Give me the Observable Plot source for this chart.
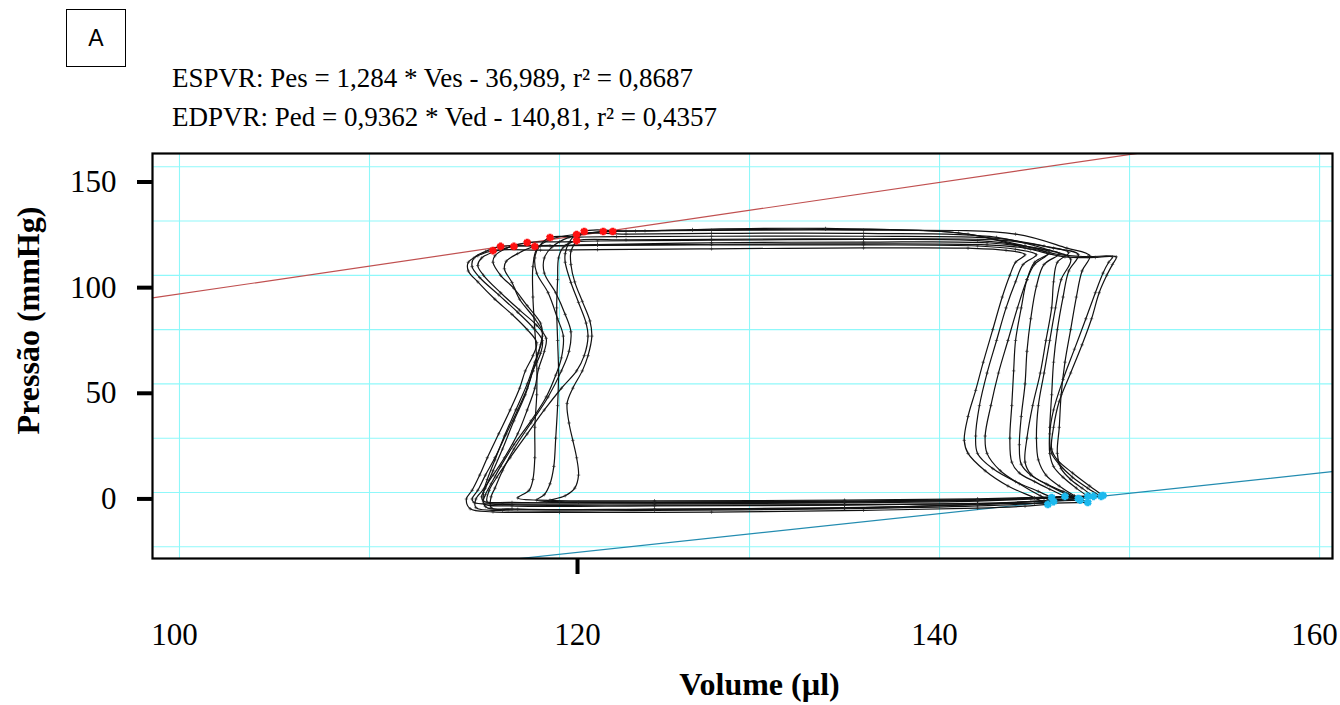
<!DOCTYPE html>
<html lang="pt">
<head>
<meta charset="utf-8">
<script src="https://cdn.jsdelivr.net/npm/d3@7"></script>
<script src="https://cdn.jsdelivr.net/npm/@observablehq/plot@0.6"></script>
<style>
  html, body { margin: 0; padding: 0; background: #fff; overflow: hidden; }
  #fig { position: relative; width: 1340px; height: 705px; }
  #panel {
    position: absolute; left: 66px; top: 9px; width: 60px; height: 58px;
    box-sizing: border-box; border: 1.5px solid #000;
    font: 23px "Liberation Sans", Arial, sans-serif;
    display: flex; align-items: center; justify-content: center;
  }
  .eq {
    position: absolute; left: 172px; white-space: nowrap; color: #000;
    font: 27px/27px "Liberation Serif", "Times New Roman", serif;
  }
  #eq1 { top: 65px; }
  #eq2 { top: 104px; }
  #chart { position: absolute; left: 0; top: 140px; width: 1340px; height: 565px; }
  #chart svg { position: absolute; left: 0; top: 0; }
</style>
</head>
<body>
<div id="fig">
  <div id="panel">A</div>
  <div class="eq" id="eq1"></div>
  <div class="eq" id="eq2"></div>
  <div id="chart"></div>
</div>
<script>
// Regression coefficients (end-systolic and end-diastolic pressure-volume relations)
const espvr = [1.284, -36.989, 0.8687];   // slope, intercept, r²
const edpvr = [0.9362, -140.81, 0.4357];

// Axis ticks and grid
const volumeTicks = [100, 140, 160];
const volumeTickMarks = [120];
const pressureTicks = [0, 50, 100, 150];
const volumeGrid = [100, 110, 120, 130, 140, 150, 160];
const pressureGrid = [-25, 0, 25, 50, 75, 100, 125, 150];

// End-diastolic and end-systolic points of each beat [volume µl, pressure mmHg]
const edPoints = [[145.7,-5.5],[145.9,-2.3],[146.0,-4.2],[146.6,-1.8],[147.3,-2.8],[147.4,-3.5],
                  [147.8,-1.8],[147.8,-4.6],[148.1,-1.8],[148.5,-1.8],[148.6,-1.4]];
const esPoints = [[116.5,111.4],[116.9,113.3],[117.6,113.3],[118.3,115.1],[118.7,113.3],[119.5,117.4],
                  [120.9,116.0],[120.9,118.8],[121.3,120.2],[122.3,120.2],[122.8,120.2]];

// Contraction + ejection limb of each beat (after end-diastole, before end-systole)
const systolicPaths = [
  [[145.0,-2.5],[143.6,3],[142.4,10],[141.5,18],[141.3,24],[141.5,35],[141.9,47],[142.3,60],[142.8,75],[143.3,90],[143.7,100],[144.0,106],[144.5,109.5],[143.5,111.5],[141.5,112.5],[136,112.6],[128,112.2],[122,111.8],[119,111.6]],
  [[145.2,0.5],[144.0,5],[142.8,11],[142.0,18],[141.9,26],[142.1,40],[142.5,55],[143.0,70],[143.5,85],[144.0,97],[144.4,105],[145.1,109.5],[144.0,112],[142.0,113.5],[136,114],[128,114],[122,113.8],[119,113.5]],
  [[145.3,-1.5],[144.2,4],[143.2,10],[142.5,18],[142.4,26],[142.7,40],[143.1,55],[143.6,70],[144.1,85],[144.6,98],[145.0,105],[145.7,110],[144.5,112.5],[142.5,114],[136,114.5],[128,114.3],[122,114],[119.5,113.6]],
  [[145.8,1.5],[145.0,5],[144.2,9],[143.8,14],[143.7,25],[143.8,40],[143.9,56],[144.0,70],[144.3,85],[144.6,98],[145.0,106],[145.8,110.5],[144.5,113.5],[142,116],[136,116.5],[128,116.2],[122,115.8],[120,115.4]],
  [[146.5,0.5],[145.6,4],[144.8,8],[144.3,13],[144.2,22],[144.3,35],[144.5,50],[144.6,65],[144.8,80],[145.1,95],[145.5,105],[146.3,110],[145.0,112.5],[142.5,115],[136,115.3],[128,115],[122,114.2],[120.3,113.7]],
  [[146.6,-0.5],[145.7,3.5],[144.8,8.5],[144.5,14],[144.6,25],[144.9,40],[145.3,55],[145.6,70],[145.9,85],[146.0,97],[146.2,106],[146.8,110.5],[145.5,113.5],[143,117],[136,118],[128,118],[123,117.8],[121,117.6]],
  [[147.2,2],[146.5,7],[146.0,12],[145.8,18],[145.8,30],[145.9,45],[146.0,60],[146.2,75],[146.5,90],[146.8,102],[147.3,109.5],[146.0,112.5],[143.5,116],[136,116.8],[128,116.6],[123.5,116.3]],
  [[147.1,-1.5],[146.3,3],[145.6,8],[145.2,15],[145.1,25],[145.2,40],[145.5,55],[145.8,70],[146.1,85],[146.4,98],[146.9,107.5],[145.8,111.5],[143,117.5],[136,119.3],[128,119.3],[123.5,119]],
  [[147.5,2],[146.9,6],[146.4,11],[146.2,18],[146.3,30],[146.4,45],[146.6,60],[146.9,75],[147.2,90],[147.5,102],[147.9,109],[146.7,112.5],[144,119],[136,120.8],[128,120.7],[123.5,120.4]],
  [[147.8,2],[147.0,7],[146.3,13],[145.9,18],[145.8,27],[146.0,38],[146.5,52],[147.1,66],[147.7,80],[148.2,92],[148.6,101],[148.9,106],[149.1,108.5],[147.8,108.6],[146.3,109.5],[144.5,113.5],[141,119.5],[134,121.2],[127,120.8],[124,120.4]],
  [[147.9,3],[147.0,9],[146.2,15],[145.9,20],[146.0,30],[146.3,42],[146.9,55],[147.5,68],[148.0,80],[148.4,92],[148.8,100],[149.1,105],[149.3,108.5],[148.2,108.2],[146.6,108.5],[144.8,112],[141.5,119],[134,121.6],[127,121.1],[124.5,120.5]]
];

// Relaxation + filling limb of each beat (after end-systole, before end-diastole)
const diastolicPaths = [
  [[115.7,109],[115.2,106],[115.2,102],[115.7,97],[116.6,89],[117.5,82],[118.3,75],[118.8,69],[118.6,63],[118.2,56],[117.9,48],[117.4,38],[116.8,27],[116.2,16],[115.8,8],[115.4,1],[115.1,-3],[115.3,-7.5],[116.5,-8.9],[120,-9.2],[128,-9],[136,-8.2],[142,-7.2],[144.5,-6.3]],
  [[116.1,111],[115.5,108],[115.4,104],[115.8,99],[116.8,91],[117.8,83],[118.6,76],[119.1,70],[119.0,64],[118.6,56],[118.3,48],[117.8,38],[117.2,27],[116.6,16],[116.1,8],[115.7,1],[115.4,-3],[115.5,-4.6],[117,-5.2],[125,-5.2],[135,-4.8],[142,-4],[144.8,-3]],
  [[116.6,111],[115.9,108],[115.7,104.5],[116.0,100],[116.9,92],[117.9,84],[118.8,77],[119.3,71],[119.2,65],[118.9,57],[118.7,48],[118.3,38],[117.8,27],[117.1,16],[116.5,8],[116.0,1.5],[115.6,-3],[115.6,-7],[117,-8.3],[125,-8.2],[135,-7.5],[142,-6.2],[145,-5]],
  [[117.2,112.5],[116.6,109],[116.5,106],[116.9,100],[117.6,94],[118.3,86],[119.0,78],[119.1,72],[118.9,64.5],[118.6,56],[118.2,45],[117.6,33],[117.0,20],[116.5,10],[116.1,2],[115.9,-2],[116.0,-4],[117.5,-4.6],[125,-4.7],[135,-4.3],[142,-3.5],[145,-2.5]],
  [[117.8,110],[117.2,106.5],[117.1,103],[117.5,96.7],[117.9,89],[118.7,80],[119.1,74],[119.0,68],[118.7,60],[118.3,50],[117.7,38],[117.1,26],[116.6,15],[116.2,6],[116.0,0],[116.1,-6.5],[117.5,-7.6],[125,-7.6],[135,-7],[142,-5.5],[145.5,-3.8]],
  [[118.9,113],[118.7,108],[118.8,101],[119.4,92],[119.9,80],[120.2,72],[120.1,62],[119.8,54],[119.3,44],[118.5,33],[117.6,22],[116.9,12],[116.4,4],[116.1,-1],[116.0,-5],[117.5,-6.2],[125,-6.2],[135,-5.8],[142,-5],[145.5,-4]],
  [[120.2,113],[119.95,108],[119.9,98],[119.85,85],[119.9,70],[119.95,55],[119.9,40],[119.8,25],[119.7,12],[119.5,4],[119.2,-1],[118.8,-3.5],[120,-4.2],[125,-4.3],[135,-4],[142,-3.3],[146,-2.4]],
  [[120.5,115],[120.3,110],[120.3,106],[120.6,96.7],[121.0,87.5],[121.4,78],[121.5,72],[121.3,63],[120.9,56],[120.1,48],[119.2,38],[118.3,27],[117.4,16],[116.7,7],[116.3,1],[116.2,-4.5],[117.5,-5.6],[125,-5.8],[135,-5.6],[142,-5.2],[146,-4.9]],
  [[120.9,116],[120.6,111],[120.6,105],[120.8,97],[121.2,88],[121.6,79],[121.7,72],[121.5,63],[121.2,56],[120.7,48],[120.4,41],[120.5,32],[120.7,24],[120.9,16],[121.0,8],[120.8,2],[120.3,-1.5],[119.3,-4.2],[121,-4.6],[125,-4.8],[135,-4.4],[142,-3.5],[146.5,-2.5]],
  [[120.5,117.5],[119.6,113],[119.2,108],[119.2,101],[119.8,92],[120.3,82],[120.6,74],[120.5,65],[120.1,56],[119.4,44],[118.5,32],[117.6,20],[117.0,10],[116.6,2],[116.4,-2],[116.4,-7],[117.8,-7.7],[125,-7.8],[135,-7.2],[142,-5.5],[146.5,-3.2]],
  [[121,119],[119.5,116.5],[118.8,112],[118.6,104],[118.6,90],[118.7,75],[118.8,60],[118.8,45],[118.7,30],[118.7,16],[118.6,6],[118.4,1],[117.8,-2.5],[119.5,-3.6],[125,-3.8],[135,-3.5],[142,-2.9],[146.5,-2]]
];

// Equation header (Portuguese decimal comma)
const br = (x) => String(x).replace(".", ",");
document.getElementById("eq1").textContent =
  `ESPVR: Pes = ${br(espvr[0])} * Ves - ${br(-espvr[1])}, r² = ${br(espvr[2])}`;
document.getElementById("eq2").textContent =
  `EDPVR: Ped = ${br(edpvr[0])} * Ved - ${br(-edpvr[1])}, r² = ${br(edpvr[2])}`;

// Full loops: ED → systole → ES → diastole → ED
const beats = edPoints.flatMap((ed, i) =>
  [ed, ...systolicPaths[i], esPoints[i], ...diastolicPaths[i], ed]
    .map(([v, p]) => ({beat: i + 1, v, p})));

const W = 1340, H = 565;
const frame = {marginLeft: 152, marginRight: 8, marginTop: 13, marginBottom: 147};
const xDomain = [98.58, 160.68];
const yDomain = [-30.4, 156.1];

// Regression lines across the whole volume range, clipped to the frame
const relation = ([m, b]) => xDomain.map((v) => ({v, p: m * v + b}));

const serif = "'Liberation Serif', 'Times New Roman', serif";
const gridStyle = {stroke: "#8ff8fa", strokeOpacity: 1, strokeWidth: 1.1};

const main = Plot.plot({
  width: W, height: H, ...frame,
  x: {domain: xDomain},
  y: {domain: yDomain, axis: null},
  style: {fontFamily: serif, background: "transparent", color: "#000"},
  marks: [
    Plot.gridX(volumeGrid, gridStyle),
    Plot.gridY(pressureGrid, gridStyle),
    Plot.line(relation(espvr), {x: "v", y: "p", stroke: "#c05050", strokeWidth: 1.2, clip: true}),
    Plot.line(relation(edpvr), {x: "v", y: "p", stroke: "#238cb0", strokeWidth: 1.2, clip: true}),
    Plot.line(beats, {x: "v", y: "p", z: "beat", stroke: "#111", strokeWidth: 1.2, curve: "catmull-rom", clip: true}),
    // sample marks along each loop
    Plot.dot(beats, {x: "v", y: "p", symbol: "plus", r: 1.2, stroke: "#222", strokeWidth: 0.6}),
    Plot.dot(esPoints, {x: (d) => d[0], y: (d) => d[1], symbol: "asterisk", r: 3.6, stroke: "#ff1010", strokeWidth: 3}),
    Plot.dot(edPoints, {x: (d) => d[0], y: (d) => d[1], symbol: "asterisk", r: 3.6, stroke: "#1cb9ee", strokeWidth: 3}),
    Plot.frame({stroke: "#000", strokeWidth: 2.2}),
    Plot.axisX(volumeTicks, {tickSize: 0, tickPadding: 64, fontSize: 31, dx: -5, label: null}),
    Plot.axisX(volumeTickMarks, {tickSize: 16, tickPadding: 48, strokeWidth: 4, fontSize: 31, dx: 18, label: null}),
    Plot.text(["Volume (µl)"], {frameAnchor: "bottom", lineAnchor: "middle", textAnchor: "middle", dx: 17, dy: 126, fontSize: 32, fontWeight: "bold"}),
    Plot.text(["Pressão (mmHg)"], {frameAnchor: "left", lineAnchor: "middle", textAnchor: "middle", rotate: -90, dx: -124, dy: -35.5, fontSize: 32, fontWeight: "bold"})
  ]
});

// Pressure axis as printed alongside the panel
const pressureAxis = Plot.plot({
  width: W, height: H, ...frame,
  y: {domain: [-28.2, 163.5]},
  style: {fontFamily: serif, background: "transparent", color: "#000"},
  marks: [
    Plot.axisY(pressureTicks, {tickSize: 15, tickPadding: 21, strokeWidth: 4, fontSize: 31, label: null})
  ]
});

const chart = document.getElementById("chart");
chart.append(main, pressureAxis);
</script>
</body>
</html>
